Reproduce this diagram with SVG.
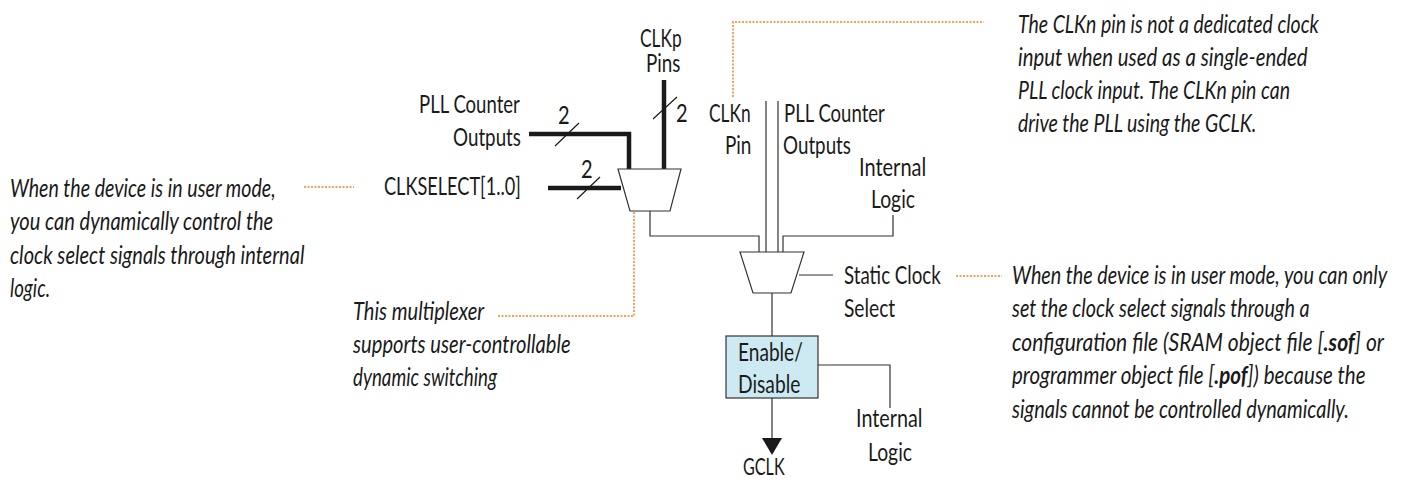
<svg xmlns="http://www.w3.org/2000/svg" width="1404" height="480" viewBox="0 0 1404 480">
<style>
text{font-family:"Lato","Open Sans",sans-serif;font-size:25px;fill:#1a1a1a}
.i{font-style:italic}
.t{fill:none;stroke:#333;stroke-width:1.2}
.b{fill:none;stroke:#1a1a1a;stroke-width:4.5}
.s{fill:none;stroke:#1a1a1a;stroke-width:1.2}
.o{fill:none;stroke:#f5a25a;stroke-width:2;stroke-dasharray:2 1.5}
</style>
<g id="connectors">
<path class="b" d="M529 134H629V169M548 188H621M664 80V169"/>
<path class="s" d="M555 146L579 123M577 199L600 177M653 119L677 97"/>
<path class="t" d="M650 211V236H759V252M766 101V252M778 101V252M893 215V236H783V252M772 293V336M799 275H833M818 365H890V408M772 398V438"/>
<path d="M762 438H782L772 455Z" fill="#1a1a1a"/>
<path class="o" d="M733 97V22H984M304 187H354M634 212V316H498M956 276H1002"/>
</g>
<g id="mux1"><path d="M618 169H681L670 211H630Z" fill="#fff" stroke="#333" stroke-width="1.2"/></g>
<g id="mux2"><path d="M740 252H804L791 293H753Z" fill="#fff" stroke="#333" stroke-width="1.2"/></g>
<g id="enable"><rect x="726" y="336" width="92" height="62" fill="#cdeaf2" stroke="#333" stroke-width="1.2"/>
<text transform="translate(738 361) scale(.8 1)" textLength="81" lengthAdjust="spacingAndGlyphs">Enable/</text>
<text transform="translate(738 393) scale(.8 1)" textLength="78" lengthAdjust="spacingAndGlyphs">Disable</text></g>
<g id="labels">
<text transform="translate(640 47) scale(.8 1)" textLength="52" lengthAdjust="spacingAndGlyphs">CLKp</text>
<text transform="translate(646 72) scale(.8 1)" textLength="43" lengthAdjust="spacingAndGlyphs">Pins</text>
<text transform="translate(676 122) scale(.8 1)">2</text>
<text transform="translate(558 124) scale(.8 1)">2</text>
<text transform="translate(581 178) scale(.8 1)">2</text>
<text transform="translate(419 113) scale(.8 1)" textLength="126" lengthAdjust="spacingAndGlyphs">PLL Counter</text>
<text transform="translate(453 146) scale(.8 1)" textLength="85" lengthAdjust="spacingAndGlyphs">Outputs</text>
<text transform="translate(384 195) scale(.8 1)" textLength="171" lengthAdjust="spacingAndGlyphs">CLKSELECT[1..0]</text>
<text transform="translate(709 122) scale(.8 1)" textLength="52" lengthAdjust="spacingAndGlyphs">CLKn</text>
<text transform="translate(725 154) scale(.8 1)" textLength="33" lengthAdjust="spacingAndGlyphs">Pin</text>
<text transform="translate(784 122) scale(.8 1)" textLength="126" lengthAdjust="spacingAndGlyphs">PLL Counter</text>
<text transform="translate(783 154) scale(.8 1)" textLength="85" lengthAdjust="spacingAndGlyphs">Outputs</text>
<text transform="translate(859 176) scale(.8 1)" textLength="84" lengthAdjust="spacingAndGlyphs">Internal</text>
<text transform="translate(871 208) scale(.8 1)" textLength="55" lengthAdjust="spacingAndGlyphs">Logic</text>
<text transform="translate(844 284) scale(.8 1)" textLength="121" lengthAdjust="spacingAndGlyphs">Static Clock</text>
<text transform="translate(844 317) scale(.8 1)" textLength="64" lengthAdjust="spacingAndGlyphs">Select</text>
<text transform="translate(856 427) scale(.8 1)" textLength="83" lengthAdjust="spacingAndGlyphs">Internal</text>
<text transform="translate(868 461) scale(.8 1)" textLength="55" lengthAdjust="spacingAndGlyphs">Logic</text>
<text transform="translate(743 475) scale(.8 1)" textLength="52" lengthAdjust="spacingAndGlyphs" style="font-size:23px">GCLK</text>
</g>
<g id="notes">
<text class="i" transform="translate(10 197) scale(.8 1)" textLength="332" lengthAdjust="spacingAndGlyphs">When the device is in user mode,</text>
<text class="i" transform="translate(10 230) scale(.8 1)" textLength="329" lengthAdjust="spacingAndGlyphs">you can dynamically control the</text>
<text class="i" transform="translate(10 264) scale(.8 1)" textLength="368" lengthAdjust="spacingAndGlyphs">clock select signals through internal</text>
<text class="i" transform="translate(10 297) scale(.8 1)" textLength="50" lengthAdjust="spacingAndGlyphs">logic.</text>
<text class="i" transform="translate(353 320) scale(.8 1)" textLength="164" lengthAdjust="spacingAndGlyphs">This multiplexer</text>
<text class="i" transform="translate(353 353) scale(.8 1)" textLength="272" lengthAdjust="spacingAndGlyphs">supports user-controllable</text>
<text class="i" transform="translate(353 386) scale(.8 1)" textLength="180" lengthAdjust="spacingAndGlyphs">dynamic switching</text>
<text class="i" transform="translate(1018 33) scale(.8 1)" textLength="376" lengthAdjust="spacingAndGlyphs">The CLKn pin is not a dedicated clock</text>
<text class="i" transform="translate(1018 66) scale(.8 1)" textLength="362" lengthAdjust="spacingAndGlyphs">input when used as a single-ended</text>
<text class="i" transform="translate(1018 99) scale(.8 1)" textLength="340" lengthAdjust="spacingAndGlyphs">PLL clock input. The CLKn pin can</text>
<text class="i" transform="translate(1018 132) scale(.8 1)" textLength="298" lengthAdjust="spacingAndGlyphs">drive the PLL using the GCLK.</text>
<text class="i" transform="translate(1012 284) scale(.8 1)" textLength="469" lengthAdjust="spacingAndGlyphs">When the device is in user mode, you can only</text>
<text class="i" transform="translate(1012 317) scale(.8 1)" textLength="372" lengthAdjust="spacingAndGlyphs">set the clock select signals through a</text>
<text class="i" transform="translate(1012 351) scale(.8 1)" textLength="465" lengthAdjust="spacingAndGlyphs">configuration file (SRAM object file [<tspan font-weight="700">.sof</tspan>] or</text>
<text class="i" transform="translate(1012 384) scale(.8 1)" textLength="442" lengthAdjust="spacingAndGlyphs">programmer object file [<tspan font-weight="700">.pof</tspan>]) because the</text>
<text class="i" transform="translate(1012 418) scale(.8 1)" textLength="421" lengthAdjust="spacingAndGlyphs">signals cannot be controlled dynamically.</text>
</g>
</svg>
